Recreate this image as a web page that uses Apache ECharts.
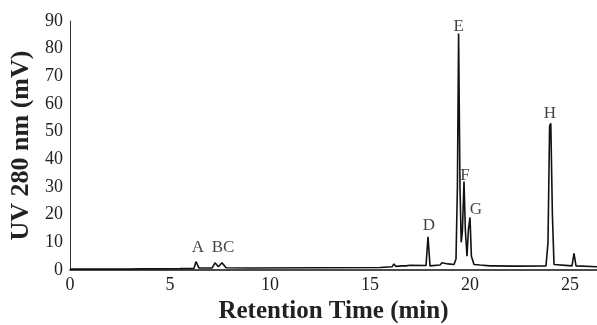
<!DOCTYPE html>
<html><head><meta charset="utf-8">
<script src="https://cdn.jsdelivr.net/npm/echarts@6/dist/echarts.min.js"></script>
<style>html,body{margin:0;padding:0;background:#fff}#c{width:597px;height:325px}</style>
</head><body><div id="c"></div>
<script>
// Chromatogram trace: [retention time (min), UV 280 nm (mV)]
const trace = [
  [0,0.3],[2.8,0.3],[2.9,0.7],[3.0,0.3],[3.5,0.4],[3.6,0.8],[3.7,0.4],[5.5,0.5],
  [6.2,0.6],[6.3,3.0],[6.45,0.7],[7.1,0.7],[7.25,2.6],[7.42,1.2],[7.6,2.6],[7.8,0.8],
  [9.0,0.7],[15.5,0.9],[16.1,1.2],[16.2,2.2],[16.3,1.3],[16.6,1.5],[16.7,2.0],[16.8,1.5],
  [17.0,1.7],[17.8,1.6],[17.9,12],[18.0,1.5],[18.5,1.8],[18.6,2.6],[18.9,2.2],[19.2,2.0],
  [19.3,4],[19.37,30],[19.43,85.5],[19.5,30],[19.56,10],[19.62,14],[19.7,32],[19.77,14],
  [19.85,5],[19.92,14.5],[20.0,19],[20.07,5],[20.2,2.0],[20.5,1.8],[21.0,1.5],[21.1,2.0],
  [21.2,1.5],[22.2,1.4],[22.3,2.0],[22.4,1.4],[23.8,1.5],[23.9,10],[23.98,52],[24.04,53],
  [24.12,20],[24.2,2.0],[25.1,1.5],[25.2,6],[25.3,1.5],[26.35,1.2]
];
// Peak labels: [time, height, name]
const peakLabels = [
  [6.4,8,'A'],[7.65,8,'BC'],[17.95,16,'D'],[19.43,88,'E'],
  [19.75,34,'F'],[20.3,22,'G'],[24.0,56.5,'H']
];
const xTicks = [0,5,10,15,20,25];
const yTicks = [0,10,20,30,40,50,60,70,80,90];

const serif = '"Liberation Serif", "DejaVu Serif", serif';
const chart = echarts.init(document.getElementById('c'));
chart.setOption({
  animation: false,
  grid: {left: 70, right: 0, top: 21, bottom: 55, containLabel: false, outerBoundsMode: 'none'},
  xAxis: {
    type: 'value', min: 0, max: 26.35, interval: 5,
    name: 'Retention Time (min)', nameLocation: 'middle', nameGap: 29,
    nameTextStyle: {fontFamily: serif, fontWeight: 'bold', fontSize: 25, color: '#222'},
    axisLine: {lineStyle: {color: '#111', width: 1.6}},
    axisTick: {show: false},
    splitLine: {show: false},
    axisLabel: {fontFamily: serif, fontSize: 18, color: '#222', margin: 6,
      formatter: v => xTicks.includes(v) ? String(v) : ''}
  },
  yAxis: {
    type: 'value', min: 0, max: 90, interval: 10,
    name: 'UV 280 nm (mV)', nameLocation: 'middle', nameGap: 34,
    nameTextStyle: {fontFamily: serif, fontWeight: 'bold', fontSize: 26, color: '#222'},
    axisLine: {show: true, lineStyle: {color: '#333', width: 1}},
    axisTick: {show: false},
    splitLine: {show: false},
    axisLabel: {fontFamily: serif, fontSize: 18, color: '#222', margin: 7,
      formatter: v => yTicks.includes(v) ? String(v) : ''}
  },
  series: [
    {type: 'line', data: trace, symbol: 'none', lineStyle: {color: '#111', width: 1.6}},
    {type: 'scatter', data: peakLabels, symbolSize: 0,
      label: {show: true, position: 'inside', formatter: p => p.data[2],
        fontFamily: serif, fontSize: 17, color: '#111'}}
  ]
});
</script></body></html>
